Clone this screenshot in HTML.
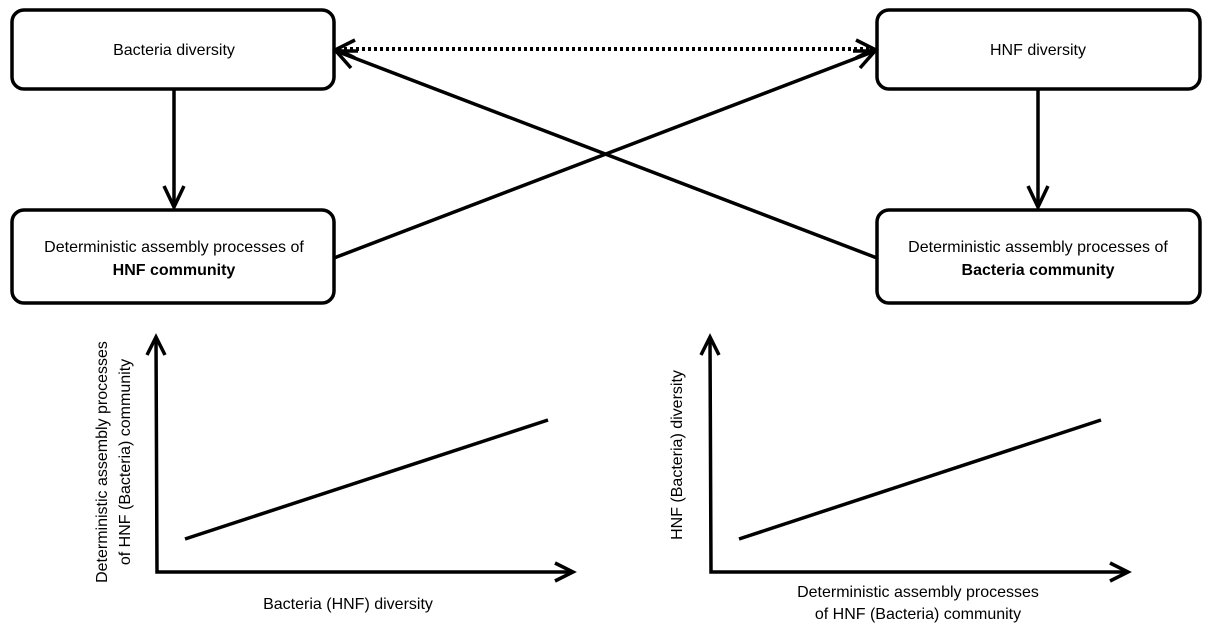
<!DOCTYPE html>
<html><head><meta charset="utf-8"><style>
html,body{margin:0;padding:0;background:#fff;}
svg{display:block;font-family:"Liberation Sans",sans-serif;}
</style></head><body>
<svg width="1210" height="643" viewBox="0 0 1210 643" xmlns="http://www.w3.org/2000/svg">
<g fill="none" stroke="#000" stroke-width="3.5">
<rect x="12" y="10" width="322" height="79" rx="12"/>
<rect x="877" y="10" width="323" height="79" rx="12"/>
<rect x="12" y="210" width="322" height="93" rx="12"/>
<rect x="877" y="210" width="323" height="93" rx="12"/>
<line x1="174" y1="89" x2="174" y2="207"/>
<polyline points="164,186 174,207 184,186"/>
<line x1="1038" y1="89" x2="1038" y2="207"/>
<polyline points="1028,186 1038,207 1048,186"/>
<line x1="338" y1="49" x2="873" y2="49" stroke-dasharray="3,3" stroke-width="4"/>
<polyline points="355,40 337,49 355,58"/>
<polyline points="856,40 874,49 856,58"/>
<line x1="334" y1="258" x2="875" y2="51"/>
<polyline points="853,51 875,51 860,68"/>
<line x1="877" y1="258" x2="336" y2="51"/>
<polyline points="358,51 336,51 351,68"/>
<polyline points="156,338 157,572 572,572"/>
<polyline points="147,355 156,337 165,355"/>
<polyline points="555,563 573,572 555,581"/>
<line x1="185" y1="539" x2="548" y2="420"/>
<polyline points="710,338 711,572 1127,572"/>
<polyline points="701,355 710,337 719,355"/>
<polyline points="1110,563 1128,572 1110,581"/>
<line x1="739" y1="539" x2="1101" y2="420"/>
</g>
<g font-size="16" fill="#000" text-anchor="middle">
<text x="174" y="55">Bacteria diversity</text>
<text x="1038" y="55">HNF diversity</text>
<text x="174" y="252">Deterministic assembly processes of</text>
<text x="174" y="275" font-weight="bold">HNF community</text>
<text x="1038" y="252">Deterministic assembly processes of</text>
<text x="1038" y="275" font-weight="bold">Bacteria community</text>
<text x="348" y="609">Bacteria (HNF) diversity</text>
<text x="918" y="597">Deterministic assembly processes</text>
<text x="918" y="619">of HNF (Bacteria) community</text>
<text transform="translate(107,462) rotate(-90)">Deterministic assembly processes</text>
<text transform="translate(130,462) rotate(-90)">of HNF (Bacteria) community</text>
<text transform="translate(682,455) rotate(-90)">HNF (Bacteria) diversity</text>
</g>
</svg>
</body></html>
